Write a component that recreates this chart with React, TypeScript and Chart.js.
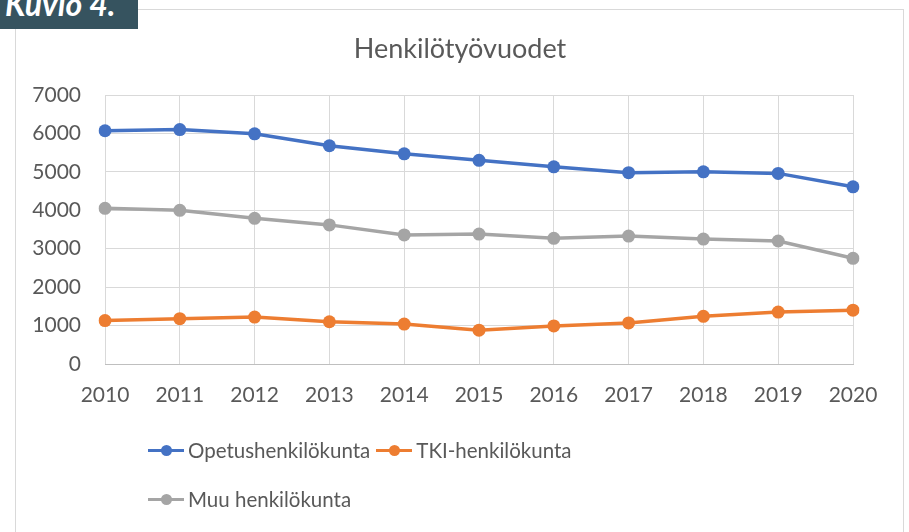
import React, { useEffect, useRef } from "react";
import { Chart, registerables } from "chart.js";

Chart.register(...registerables);

const years = ["2010", "2011", "2012", "2013", "2014", "2015", "2016", "2017", "2018", "2019", "2020"];
const opetus = [6070, 6100, 5990, 5680, 5470, 5300, 5130, 4980, 5000, 4960, 4610];
const tki = [1130, 1180, 1220, 1100, 1040, 880, 990, 1070, 1240, 1350, 1400];
const muu = [4050, 4000, 3790, 3620, 3360, 3380, 3270, 3330, 3250, 3200, 2750];
const seriesNames = ["Opetushenkilökunta", "TKI-henkilökunta", "Muu henkilökunta"];
const seriesColors = ["#4472C4", "#ED7D31", "#A5A5A5"];
const chartTitle = "Henkilötyövuodet";
const badge = "Kuvio 4.";

const FONT = "Lato, 'Open Sans', sans-serif";

function LegendItem({ name, color }: { name: string; color: string }) {
  return (
    <div style={{ display: "flex", alignItems: "center", marginRight: 6 }}>
      <span style={{ position: "relative", width: 36, height: 12, marginRight: 4 }}>
        <span style={{ position: "absolute", left: 0, right: 0, top: 4.5, height: 3, background: color }} />
        <span style={{ position: "absolute", left: 12.5, top: 1, width: 11, height: 11, borderRadius: "50%", background: color }} />
      </span>
      <span>{name}</span>
    </div>
  );
}

export default function App() {
  const ref = useRef<HTMLCanvasElement>(null);
  useEffect(() => {
    document.body.style.margin = "0";
    const data = [opetus, tki, muu];
    const chart = new Chart(ref.current!, {
      type: "line",
      data: {
        labels: years,
        datasets: seriesNames.map((n, i) => ({
          label: n,
          data: data[i],
          borderColor: seriesColors[i],
          backgroundColor: seriesColors[i],
          borderWidth: 3.5,
          pointRadius: 6.5,
          pointHoverRadius: 6.5,
          pointBorderWidth: 0,
          tension: 0,
        })),
      },
      options: {
        animation: false,
        responsive: false,
        layout: { padding: { top: 95, right: 56, left: 0, bottom: 0 } },
        plugins: { legend: { display: false }, title: { display: false }, tooltip: { enabled: false } },
        scales: {
          x: {
            offset: false,
            grid: { color: "#d9d9d9", lineWidth: 1, drawTicks: false },
            border: { color: "#bfbfbf", width: 1 },
            ticks: { color: "#595959", font: { family: FONT, size: 21 }, padding: 19 },
            afterFit: (s: any) => { s.height = 532 - 364; },
          },
          y: {
            min: 0,
            max: 7000,
            grid: { color: "#d9d9d9", lineWidth: 1, drawTicks: false },
            border: { display: false },
            ticks: {
              stepSize: 1000,
              color: "#595959",
              font: { family: FONT, size: 21 },
              padding: 24,
              callback: (v: any) => String(v),
            },
            afterFit: (s: any) => { s.width = 105; },
          },
        },
      },
    });
    return () => chart.destroy();
  }, []);
  return (
    <div style={{ position: "relative", width: 909, height: 532, overflow: "hidden", background: "#fff", fontFamily: FONT }}>
      <div style={{ position: "absolute", left: 15, top: 9, width: 887, height: 600, border: "1px solid #d9d9d9" }} />
      <canvas ref={ref} width={909} height={532} style={{ position: "absolute", left: 0, top: 0 }} />
      <div style={{ position: "absolute", left: 0, top: 0, width: 138, height: 29, background: "#36535f", overflow: "hidden" }}>
        <div style={{ position: "absolute", left: 5, top: -16, color: "#fff", fontStyle: "italic", fontWeight: 700, fontSize: 32, whiteSpace: "nowrap" }}>{badge}</div>
      </div>
      <div style={{ position: "absolute", left: 0, width: 920, top: 31, textAlign: "center", color: "#595959", fontSize: 27 }}>{chartTitle}</div>
      <div style={{ position: "absolute", left: 148, top: 436, color: "#595959", fontSize: 20.5, lineHeight: "28px" }}>
        <div style={{ display: "flex" }}>
          <LegendItem name={seriesNames[0]} color={seriesColors[0]} />
          <LegendItem name={seriesNames[1]} color={seriesColors[1]} />
        </div>
        <div style={{ display: "flex", marginTop: 21 }}>
          <LegendItem name={seriesNames[2]} color={seriesColors[2]} />
        </div>
      </div>
    </div>
  );
}
